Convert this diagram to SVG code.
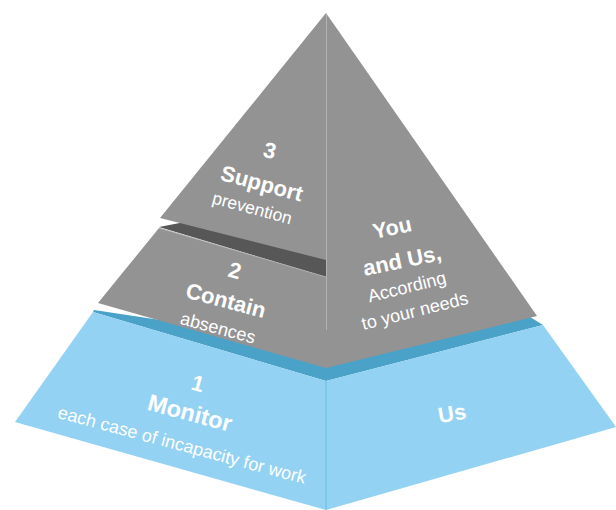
<svg xmlns="http://www.w3.org/2000/svg" width="616" height="510" viewBox="0 0 616 510">
<style>
.g{fill:#939393}
.dk{fill:#575757}
.bl{fill:#93d2f3}
.bd{fill:#4ba2c8}
text{fill:#ffffff;font-family:"Liberation Sans",Arial,sans-serif;text-anchor:middle}
.b{font-weight:bold}
</style>
<rect width="616" height="510" fill="#ffffff"/>
<g id="tier-1">
  <polygon class="bd" points="94,310 200,326 325,362 530,317 543,325 326,381 93,312"/>
  <polygon class="bl" points="93,312 326,381 326,510 15,422"/>
  <polygon class="bl" points="326,381 543,325 616,427 326,510"/>
  <line x1="326" y1="381" x2="326" y2="510" stroke="#6dbde6" stroke-width="1"/>
  <text class="b" font-size="22" transform="translate(198,383) rotate(15)" y="8">1</text>
  <text class="b" font-size="23.5" transform="translate(190,413) rotate(15)" y="8">Monitor</text>
  <text font-size="18" transform="translate(182,445) rotate(15)" y="6">each case of incapacity for work</text>
  <text class="b" font-size="22" transform="translate(452,413) rotate(-10)" y="8">Us</text>
</g>
<g id="tier-2">
  <polygon class="dk" points="159,227 190,221 326,256 326,277"/>
  <polygon class="g" points="159,228 326,277 326,368 98,303"/>
  <line x1="159" y1="228" x2="326" y2="277" stroke="#b0b0b0" stroke-width="0.8"/>
  <text class="b" font-size="22" transform="translate(235,270) rotate(15)" y="8">2</text>
  <text class="b" font-size="22" transform="translate(226,300) rotate(15)" y="8">Contain</text>
  <text font-size="18" transform="translate(218,328) rotate(15)" y="6">absences</text>
</g>
<g id="tier-3">
  <polygon class="g" points="326,13 160,218 326,260"/>
  <text class="b" font-size="22" transform="translate(270,150) rotate(15)" y="8">3</text>
  <text class="b" font-size="22" transform="translate(262,183) rotate(15)" y="8">Support</text>
  <text font-size="17.5" transform="translate(252,209) rotate(15)" y="5">prevention</text>
</g>
<g id="you-and-us">
  <polygon class="g" points="326,13 537,316 326,368"/>
  <line x1="326.5" y1="14" x2="326.5" y2="330" stroke="#b3b3b3" stroke-width="1"/>
  <text class="b" font-size="21.5" transform="translate(392,227) rotate(-12)" y="8">You</text>
  <text class="b" font-size="22" transform="translate(402,260) rotate(-12)" y="8">and Us,</text>
  <text font-size="18" transform="translate(407,287) rotate(-14)" y="6">According</text>
  <text font-size="18" transform="translate(415,312) rotate(-14)" y="5">to your needs</text>
</g>
</svg>
